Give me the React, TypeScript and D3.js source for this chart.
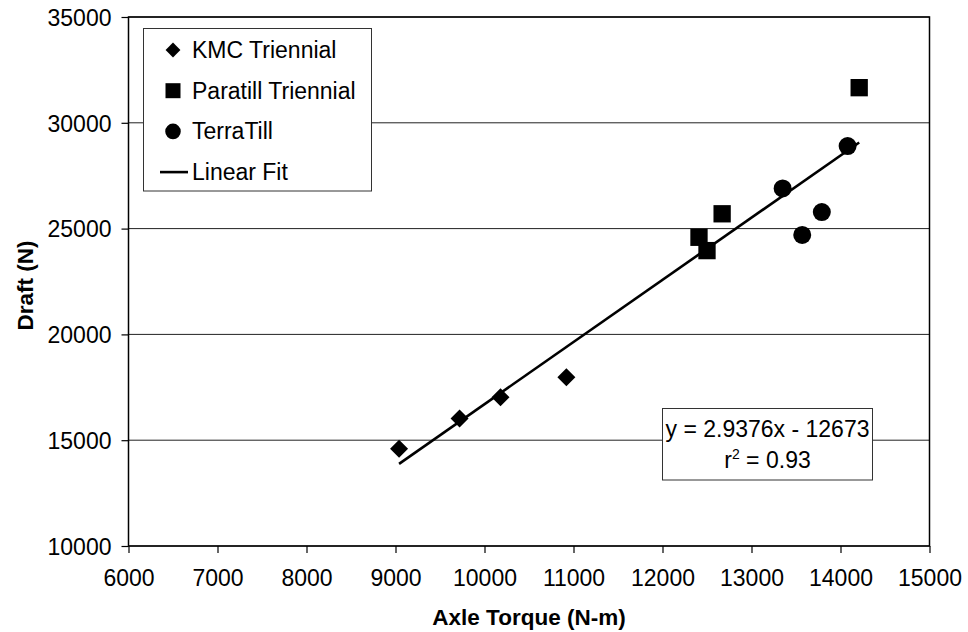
import { useEffect, useRef } from 'react';
import * as d3 from 'd3';

// values
const kmcTorque = [9040, 9720, 10180, 10920];
const kmcDraft = [14600, 16030, 17030, 17970];
const paratillTorque = [12410, 12500, 12670, 14210];
const paratillDraft = [24590, 23960, 25700, 31660];
const terraTorque = [13350, 13570, 13790, 14080];
const terraDraft = [26900, 24700, 25780, 28900];

const xTicks = [6000, 7000, 8000, 9000, 10000, 11000, 12000, 13000, 14000, 15000];
const yTicks = [10000, 15000, 20000, 25000, 30000, 35000];

const fitSlope = 2.9376;
const fitIntercept = -12673;
const fitR2 = 0.93;

const seriesNames = ['KMC Triennial', 'Paratill Triennial', 'TerraTill'];

type Point = { x: number; y: number };

const zip = (xs: number[], ys: number[]): Point[] => xs.map((x, i) => ({ x, y: ys[i] }));

const App = () => {
  const ref = useRef<SVGSVGElement | null>(null);
  const width = 968;
  const height = 632;

  useEffect(() => {
    if (!ref.current) return;
    const svg = d3.select(ref.current);
    svg.selectAll('*').remove();

    const font = 'Arial, "Liberation Sans", sans-serif';
    const fontSize = 23;
    const margin = { top: 17, right: 38.5, bottom: 86, left: 128.5 };
    const innerWidth = width - margin.left - margin.right;
    const innerHeight = height - margin.top - margin.bottom;

    const x = d3.scaleLinear().domain([6000, 15000]).range([0, innerWidth]);
    const y = d3.scaleLinear().domain([10000, 35000]).range([innerHeight, 0]);

    const g = svg.append('g').attr('transform', `translate(${margin.left},${margin.top})`);

    // horizontal gridlines
    g.append('g')
      .selectAll('line')
      .data(yTicks)
      .enter()
      .append('line')
      .attr('x1', 0)
      .attr('x2', innerWidth)
      .attr('y1', (d) => y(d))
      .attr('y2', (d) => y(d))
      .attr('stroke', '#222')
      .attr('stroke-width', 1);

    // plot border
    g.append('rect')
      .attr('width', innerWidth)
      .attr('height', innerHeight)
      .attr('fill', 'none')
      .attr('stroke', '#000')
      .attr('stroke-width', 1.5);

    const xAxis = g
      .append('g')
      .attr('transform', `translate(0,${innerHeight})`)
      .call(d3.axisBottom(x).tickValues(xTicks).tickSize(7).tickSizeOuter(0).tickPadding(16.5).tickFormat(d3.format('d')));
    const yAxis = g
      .append('g')
      .call(d3.axisLeft(y).tickValues(yTicks).tickSize(7).tickSizeOuter(0).tickPadding(10).tickFormat(d3.format('d')));

    [xAxis, yAxis].forEach((axis) => {
      axis.select('.domain').remove();
      axis.selectAll('line').attr('stroke', '#000').attr('stroke-width', 1.2);
      axis.selectAll('text').attr('font-family', font).attr('font-size', fontSize).attr('fill', '#000');
    });
    yAxis.selectAll('text').attr('dy', '0.36em');

    // fit line
    const all = [...kmcTorque, ...paratillTorque, ...terraTorque];
    const x0 = d3.min(all) ?? 0;
    const x1 = d3.max(all) ?? 0;
    const fitLine = d3
      .line<number>()
      .x((d) => x(d))
      .y((d) => y(fitSlope * d + fitIntercept));
    g.append('path')
      .attr('d', fitLine([x0, x1]))
      .attr('fill', 'none')
      .attr('stroke', '#000')
      .attr('stroke-width', 2.6);

    const diamond = d3.symbol(d3.symbolSquare, 162)();
    const square = d3.symbol(d3.symbolSquare, 300)();
    const circle = d3.symbol(d3.symbolCircle, 254)();

    const drawSeries = (pts: Point[], path: string | null, rotate: number) => {
      g.append('g')
        .selectAll('path')
        .data(pts)
        .enter()
        .append('path')
        .attr('d', path)
        .attr('transform', (d) => `translate(${x(d.x)},${y(d.y)}) rotate(${rotate})`)
        .attr('fill', '#000');
    };
    drawSeries(zip(kmcTorque, kmcDraft), diamond, 45);
    drawSeries(zip(paratillTorque, paratillDraft), square, 0);
    drawSeries(zip(terraTorque, terraDraft), circle, 0);

    // legend
    const legend = svg.append('g').attr('transform', 'translate(143.5,28.5)');
    legend
      .append('rect')
      .attr('width', 228)
      .attr('height', 162.5)
      .attr('fill', '#fff')
      .attr('stroke', '#333')
      .attr('stroke-width', 1);
    const legendItems = [
      { name: seriesNames[0], path: d3.symbol(d3.symbolSquare, 110)(), rotate: 45 },
      { name: seriesNames[1], path: d3.symbol(d3.symbolSquare, 225)(), rotate: 0 },
      { name: seriesNames[2], path: d3.symbol(d3.symbolCircle, 190)(), rotate: 0 },
    ];
    legendItems.forEach((item, i) => {
      const cy = 21.5 + i * 40.7;
      legend
        .append('path')
        .attr('d', item.path)
        .attr('transform', `translate(29.5,${cy}) rotate(${item.rotate})`)
        .attr('fill', '#000');
      legend
        .append('text')
        .attr('x', 48.5)
        .attr('y', cy + 7.8)
        .attr('font-family', font)
        .attr('font-size', fontSize)
        .text(item.name);
    });
    const lineY = 21.5 + 3 * 40.7;
    legend
      .append('line')
      .attr('x1', 16.5)
      .attr('x2', 44.5)
      .attr('y1', lineY)
      .attr('y2', lineY)
      .attr('stroke', '#000')
      .attr('stroke-width', 2.6);
    legend
      .append('text')
      .attr('x', 48.5)
      .attr('y', lineY + 7.8)
      .attr('font-family', font)
      .attr('font-size', fontSize)
      .text('Linear Fit');

    // equation box
    const eq = svg.append('g').attr('transform', 'translate(662.5,408.5)');
    eq.append('rect')
      .attr('width', 210)
      .attr('height', 71.5)
      .attr('fill', '#fff')
      .attr('stroke', '#333')
      .attr('stroke-width', 1);
    eq.append('text')
      .attr('x', 105)
      .attr('y', 28)
      .attr('text-anchor', 'middle')
      .attr('font-family', font)
      .attr('font-size', fontSize)
      .text(`y = ${fitSlope}x - ${Math.abs(fitIntercept)}`);
    const r2 = eq
      .append('text')
      .attr('x', 105)
      .attr('y', 59.5)
      .attr('text-anchor', 'middle')
      .attr('font-family', font)
      .attr('font-size', fontSize);
    r2.append('tspan').text('r');
    r2.append('tspan').attr('font-size', 14).attr('dy', -9).text('2');
    r2.append('tspan').attr('dy', 9).text(` = ${fitR2}`);

    // axis titles
    svg
      .append('text')
      .attr('x', margin.left + innerWidth / 2)
      .attr('y', 625)
      .attr('text-anchor', 'middle')
      .attr('font-family', font)
      .attr('font-weight', 'bold')
      .attr('font-size', 22.5)
      .text('Axle Torque (N-m)');
    svg
      .append('text')
      .attr('transform', `translate(33,${margin.top + innerHeight / 2 + 4}) rotate(-90)`)
      .attr('text-anchor', 'middle')
      .attr('font-family', font)
      .attr('font-weight', 'bold')
      .attr('font-size', 22.5)
      .text('Draft (N)');
  }, []);

  return (
    <svg
      ref={ref}
      width={width}
      height={height}
      style={{ position: 'absolute', left: 0, top: 0, background: '#fff' }}
      role="img"
      aria-label="Draft versus axle torque"
    />
  );
};

export default App;
